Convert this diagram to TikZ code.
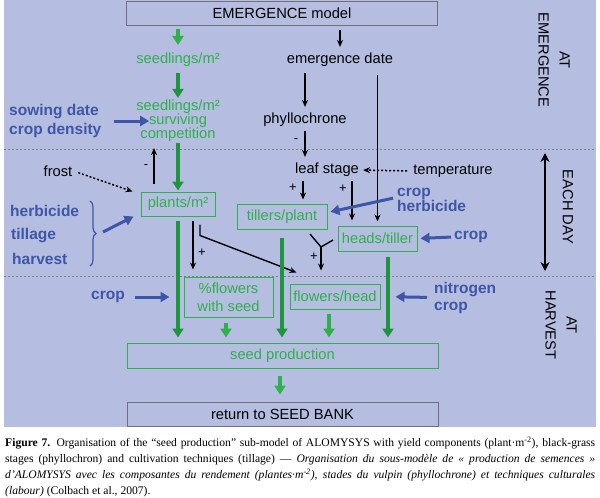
\documentclass[tikz,border=0pt]{standalone}
\usepackage{fontspec}
\setmainfont{Liberation Serif}
\setsansfont{Liberation Sans}
\usetikzlibrary{arrows.meta,decorations.pathreplacing,positioning}

\definecolor{panel}{RGB}{181,190,224}
\definecolor{leafgreen}{RGB}{46,176,74}
\definecolor{stemgreen}{RGB}{30,148,62}
\definecolor{ctrlblue}{RGB}{62,86,168}
\definecolor{boxgray}{RGB}{112,112,122}

\begin{document}
\begin{tikzpicture}[x=1pt,y=-1pt,
  txt/.style={font=\sffamily\fontsize{14.7}{14}\selectfont, inner sep=1pt},
  gtxt/.style={txt, text=leafgreen, align=center},
  gbox/.style={gtxt, draw=leafgreen, line width=1pt},
  kbox/.style={txt, draw=boxgray, line width=1pt, minimum width=311, minimum height=24},
  ctrl/.style={font=\sffamily\bfseries\fontsize{15.5}{19}\selectfont, text=ctrlblue, inner sep=1pt, align=left},
  sign/.style={font=\sffamily\fontsize{13}{13}\selectfont, inner sep=0pt},
  side/.style={font=\sffamily\fontsize{14.7}{21}\selectfont, rotate=-90, align=center, inner sep=0pt},
  karr/.style={-{Stealth[length=7pt,width=6pt]}, line width=1.4pt},
  garr/.style={-{Triangle[length=9pt,width=11pt]}, line width=4pt, draw=stemgreen},
  gshort/.style={-{Triangle[length=9pt,width=11pt]}, line width=4pt, draw=leafgreen},
  barr/.style={-{Triangle[length=9pt,width=10pt]}, line width=3pt, draw=ctrlblue},
  dotarr/.style={-{Stealth[length=7pt,width=6pt]}, line width=1.5pt, dash pattern=on 2pt off 2pt},
  sep/.style={gray, line width=0.6pt, dash pattern=on 2pt off 2pt}
]
\useasboundingbox (0,0) rectangle (600,498);

% panel and time zones
\fill[panel] (4,0) rectangle (596,427);
\draw[sep] (4,149) -- (596,149);
\draw[sep] (4,276) -- (596,276);

% model boxes and variables
\node[kbox] (emodel) at (282,13.5) {EMERGENCE model};
\node[gtxt] (seedl) at (178,60) {seedlings/m²};
\node[gtxt] (surv) at (178,121) {seedlings/m²\\surviving\\competition};
\node[txt] (edate) at (340,60) {emergence date};
\node[txt] (phyllo) at (305,120) {phyllochrone};
\node[txt] (leaf) at (327,170) {leaf stage};
\node[txt] (temp) at (453,171) {temperature};
\node[txt] (frost) at (58,171) {frost};
\node[gbox, minimum width=74, minimum height=24] (plants) at (178,204) {plants/m²};
\node[gbox, minimum width=90, minimum height=25] (tillers) at (282,216.5) {tillers/plant};
\node[gbox, minimum width=79, minimum height=25] (heads) at (377.5,238.5) {heads/tiller};
\node[gbox, minimum width=89, minimum height=40, font=\sffamily\fontsize{14.7}{18}\selectfont] (pflowers) at (228.5,297) {\%flowers\\with seed};
\node[gbox, minimum width=90, minimum height=25] (fhead) at (335,296.5) {flowers/head};
\node[gbox, minimum width=311, minimum height=25] (sprod) at (282.5,355.5) {seed production};
\node[kbox] (sbank) at (282.5,414) {return to SEED BANK};

% cultivation techniques
\node[ctrl, anchor=west] (sowing) at (8,121) {sowing date\\crop density};
\node[ctrl, anchor=west] (herb) at (9,211) {herbicide};
\node[ctrl, anchor=west] (till) at (10,236) {tillage};
\node[ctrl, anchor=west] (harv) at (11,259) {harvest};
\node[ctrl] (cropL) at (108,297) {crop};
\node[ctrl, anchor=west, font=\sffamily\bfseries\fontsize{15.5}{17}\selectfont] (nitro) at (433,297.5) {nitrogen\\crop};
\node[ctrl, anchor=west, font=\sffamily\bfseries\fontsize{15.5}{15}\selectfont] (cropherb) at (396,199.5) {crop\\herbicide};
\node[ctrl] (cropR) at (471,237) {crop};

% time labels
\node[side] (atemer) at (554,60) {AT\\EMERGENCE};
\node[side] (eachday) at (568,207) {EACH DAY};
\node[side] (atharv) at (561,325) {AT\\HARVEST};

% signs
\node[sign] (m1) at (296,141) {-};
\node[sign] (m2) at (146,167) {-};
\node[sign] (p1) at (293,188) {+};
\node[sign] (p2) at (343,189) {+};
\node[sign] (p3) at (202,253) {+};
\node[sign] (p4) at (314,257) {+};

% emergence outputs
\draw[gshort, shorten <=2.5pt, shorten >=7pt] (emodel.south -| seedl.north) -- (seedl.north);
\draw[garr, shorten <=5pt, shorten >=1pt] (seedl.south) -- (surv.north);
\draw[karr, shorten <=4pt, shorten >=5pt] (emodel.south -| edate.north) -- (edate.north);
\draw[karr, shorten <=5pt, shorten >=5pt] (edate.south -| phyllo.north) -- (phyllo.north);
\draw[karr, shorten <=7pt, shorten >=4pt] (edate.south -| heads.north) -- (heads.north);
\draw[karr, shorten <=3pt, shorten >=5pt] (phyllo.south) -- (phyllo.south |- leaf.north);
\draw[dotarr, shorten <=5pt, shorten >=3pt] (temp.west) -- (leaf.east);

% leaf stage to components
\draw[karr, shorten <=3pt, shorten >=4pt] ([xshift=-24pt]leaf.south) -- ([xshift=-24pt]leaf.south |- tillers.north);
\draw[karr, shorten <=3pt, shorten >=5pt] ([xshift=25pt]leaf.south) -- ([xshift=25pt]leaf.south |- heads.north);

% plant density
\draw[dotarr, shorten <=5pt] (frost.east) -- ([xshift=-8pt]plants.north west);
\draw[karr, shorten <=8pt, shorten >=5pt] ([xshift=-24pt]plants.north) -- ([xshift=-24pt]plants.north |- surv.south);
\draw[garr, shorten >=1pt] (surv.south) -- (plants.north);
\draw[barr, shorten <=11pt, shorten >=-14pt] (sowing.east) -- (surv.west);
\draw[decorate, decoration={brace, amplitude=6pt}, ctrlblue, line width=1.2pt] (90,201) -- (90,266);
\coordinate (brtip) at (103,232);
\draw[barr] (brtip) -- ([xshift=-7pt]plants.south west);

% yield components to seed production
\draw[garr, shorten <=4.5pt, shorten >=5pt] (plants.south) -- (plants.south |- sprod.north);
\draw[karr, shorten <=4.5pt, shorten >=7pt] ([xshift=15pt]plants.south) -- ([xshift=15pt]plants.south |- pflowers.north);
\draw[karr, shorten <=8pt] ([xshift=22pt]plants.south) -- ++(0,19) -- ([shift={(7,-11)}]fhead.north west);
\draw[garr, shorten <=8pt, shorten >=5pt] (tillers.south) -- (tillers.south |- sprod.north);
\coordinate (yl) at (310,234);
\coordinate (yr) at (333,240);
\coordinate (yj) at (321,247);
\draw[line width=1.4pt] (yl) -- (yj) -- (yr);
\draw[karr, shorten >=13pt] (yj) -- (yj |- fhead.north);
\draw[garr, shorten <=5pt, shorten >=5pt] ([xshift=10.5pt]heads.south) -- ([xshift=10.5pt]heads.south |- sprod.north);
\draw[gshort, shorten <=5pt, shorten >=5pt] ([xshift=-2.5pt]pflowers.south) -- ([xshift=-2.5pt]pflowers.south |- sprod.north);
\draw[gshort, shorten <=4pt, shorten >=5pt] ([xshift=-6pt]fhead.south) -- ([xshift=-6pt]fhead.south |- sprod.north);
\draw[gshort, shorten <=7pt, shorten >=7pt] ([xshift=-2.5pt]sprod.south) -- ([xshift=-2.5pt]sprod.south |- sbank.north);

% techniques acting on components
\draw[barr, shorten <=9pt, shorten >=14pt] (cropL.east) -- (pflowers.west);
\draw[barr, shorten <=6pt, shorten >=15pt] (nitro.west) -- (fhead.east);
\draw[barr, shorten <=3pt, shorten >=3pt] ([yshift=2pt]cropherb.west) -- ([yshift=4pt]tillers.east);
\draw[barr, shorten <=2pt, shorten >=3pt] (cropR.west) -- (heads.east);

% each day
\coordinate (dtop) at (545,153);
\coordinate (dbot) at (545,271);
\draw[{Stealth[length=9pt,width=9pt]}-{Stealth[length=9pt,width=9pt]}, line width=2.5pt] (dtop) -- (dbot);

% caption
\node[anchor=north west, text width=590pt, inner sep=0pt, align=justify, font=\rmfamily\fontsize{11.6}{16}\selectfont] (caption) at (5,437) {\textbf{Figure 7.} Organisation of the “seed production” sub-model of ALOMYSYS with yield components (plant·m\textsuperscript{-2}), black-grass\linebreak stages (phyllochron) and cultivation techniques (tillage) — \textit{Organisation du sous-modèle de « production de semences »\linebreak d’ALOMYSYS avec les composantes du rendement (plantes·m\textsuperscript{-2}), stades du vulpin (phyllochrone) et techniques culturales\linebreak (labour)} (Colbach et al., 2007).};

\end{tikzpicture}
\end{document}
